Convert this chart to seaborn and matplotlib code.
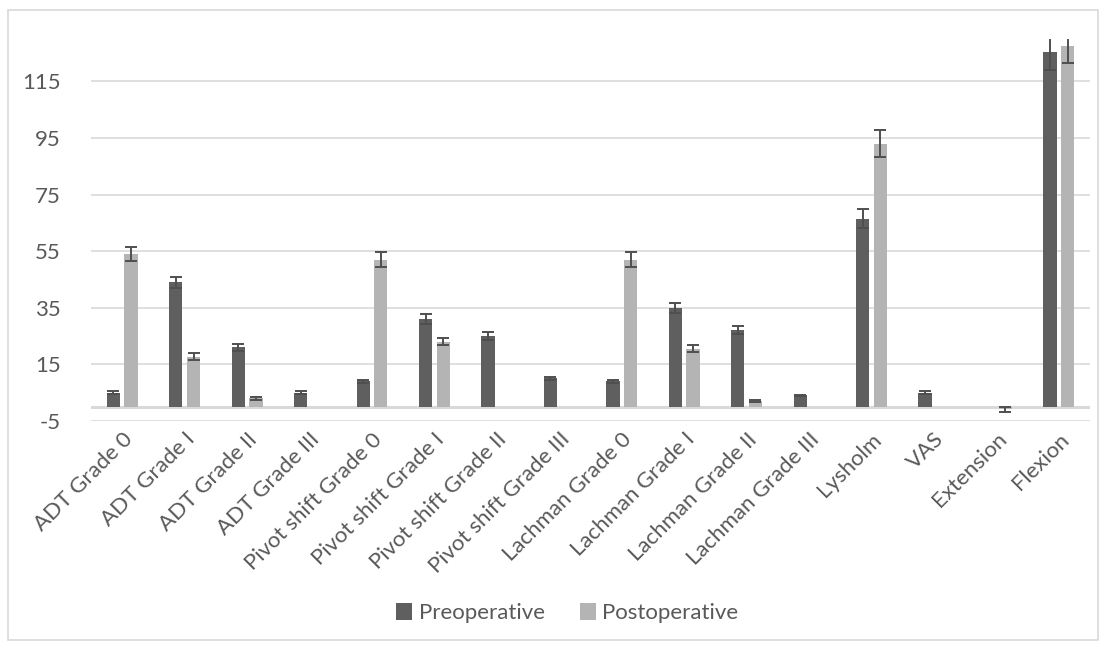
import numpy as np
import pandas as pd
import matplotlib
matplotlib.use("Agg")
import matplotlib.pyplot as plt
import seaborn as sns
from matplotlib.patches import Rectangle

# values
categories = ['ADT Grade 0', 'ADT Grade I', 'ADT Grade II', 'ADT Grade III',
              'Pivot shift Grade 0', 'Pivot shift Grade I', 'Pivot shift Grade II',
              'Pivot shift Grade III', 'Lachman Grade 0', 'Lachman Grade I',
              'Lachman Grade II', 'Lachman Grade III', 'Lysholm', 'VAS',
              'Extension', 'Flexion']
pre_values = [5, 44, 21, 5, 9, 31, 25, 10, 9, 35, 27, 4, 66.5, 5, 0, 125.5]
pre_err = [0.4, 2, 1.2, 0.4, 0.5, 1.6, 1.4, 0.5, 0.5, 1.8, 1.4, 0.3, 3.3, 0.4, np.nan, 6.3]
post_values = [54, 17.7, 3, 0, 52, 23, 0, 0, 52, 20.5, 2, 0, 93, 0, -1, 127.5]
post_err = [2.6, 1.2, 0.5, np.nan, 2.6, 1.2, np.nan, np.nan, 2.6, 1.3, 0.4, np.nan, 4.7, np.nan, 0.8, 6.1]
y_ticks = [-5, 15, 35, 55, 75, 95, 115]

df = pd.DataFrame({
    'measure': categories * 2,
    'value': pre_values + post_values,
    'group': ['Preoperative'] * len(categories) + ['Postoperative'] * len(categories),
})

sns.set_style('white')
plt.rcParams['font.family'] = ['Lato', 'DejaVu Sans']
plt.rcParams['axes.unicode_minus'] = False
text_col = '#595959'
grid_col = '#d9d9d9'

fig = plt.figure(figsize=(11.06, 6.48), dpi=100)
ax = fig.add_axes([0.0823, 0.3506, 0.9032, 0.5892])

sns.barplot(data=df, x='measure', y='value', hue='group', order=categories,
            hue_order=['Preoperative', 'Postoperative'],
            palette=['#5f5f5f', '#b4b4b4'], width=0.566, gap=0.25,
            errorbar=None, ax=ax, zorder=2, linewidth=0)

# error bars on top of each bar
for cont, errs in zip(ax.containers, [pre_err, post_err]):
    for bar, e in zip(cont, errs):
        if np.isnan(e):
            continue
        xc = bar.get_x() + bar.get_width() / 2
        ax.errorbar(xc, bar.get_height(), yerr=e, color='#4f4f4f', lw=1.4,
                    capsize=4, capthick=1.4, zorder=3, clip_on=True)

ax.set_xlim(-0.5, len(categories) - 0.5)
ax.set_ylim(-5, 130)
ax.set_yticks(y_ticks)
ax.yaxis.grid(True, color=grid_col, lw=1.2, zorder=0)
ax.set_axisbelow(True)
ax.axhline(0, color=grid_col, lw=2.2, zorder=1)
for s in ax.spines.values():
    s.set_visible(False)
ax.tick_params(axis='both', length=0, labelsize=16, colors=text_col)
ax.tick_params(axis='y', pad=22)
ax.set_xticks(range(len(categories)))
ax.set_xticklabels(categories, rotation=45, ha='right', rotation_mode='anchor')
ax.tick_params(axis='x', pad=6)
ax.set_xlabel('')
ax.set_ylabel('')

leg = ax.legend(loc='center', bbox_to_anchor=(0.513, 0.054), bbox_transform=fig.transFigure,
                ncol=2, frameon=False, fontsize=16, handlelength=0.7, handleheight=0.8,
                handletextpad=0.3, columnspacing=1.6)
for t in leg.get_texts():
    t.set_color(text_col)

# chart border
fig.patches.append(Rectangle((0.0075, 0.012), 0.985, 0.972, transform=fig.transFigure,
                             fill=False, edgecolor=grid_col, lw=1.2))

fig.savefig('out.png', dpi=100)
